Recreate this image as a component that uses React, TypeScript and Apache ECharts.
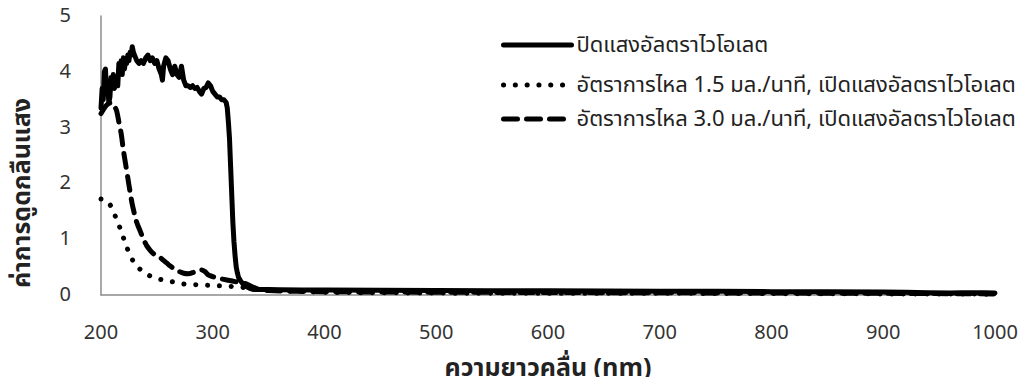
import React, { useEffect, useRef } from "react";
import * as echarts from "echarts";

const seriesNames = [
  "ปิดแสงอัลตราไวโอเลต",
  "อัตราการไหล 1.5 มล./นาที, เปิดแสงอัลตราไวโอเลต",
  "อัตราการไหล 3.0 มล./นาที, เปิดแสงอัลตราไวโอเลต",
];

const xTicks = [200, 300, 400, 500, 600, 700, 800, 900, 1000];
const yTicks = [0, 1, 2, 3, 4, 5];

const uvOffX = [
  200, 201, 202, 203, 204, 205, 206, 207, 208, 209, 210, 211, 212, 213, 214, 215, 216, 217, 218, 219,
  220, 221, 222, 223, 224, 225, 226, 227, 228, 229, 230, 232, 234, 236, 238, 240, 242, 244, 246, 248,
  250, 252, 254, 255, 256, 258, 260, 262, 264, 266, 268, 270, 272, 274, 276, 278, 280, 282, 284, 286,
  288, 290, 292, 294, 296, 298, 300, 302, 304, 306, 308, 310, 312, 313, 314, 315, 316, 317, 318, 319,
  320, 321, 322, 323, 325, 327, 330, 333, 336, 340, 350, 360, 380, 400, 450, 500, 550, 600, 650, 700,
  750, 800, 850, 900, 920, 940, 960, 970, 980, 990, 1000,
];
const uvOffY = [
  3.35, 3.7, 3.5, 4.0, 4.05, 3.6, 3.8, 3.45, 3.55, 3.9, 3.75, 3.95, 3.7, 3.85, 3.9, 3.75, 4.15, 4.0, 4.2, 3.95,
  4.25, 4.05, 4.2, 4.15, 4.3, 4.2, 4.35, 4.3, 4.45, 4.35, 4.3, 4.2, 4.15, 4.2, 4.15, 4.25, 4.3, 4.2, 4.25, 4.15,
  4.2, 4.05, 3.95, 3.85, 4.1, 4.25, 4.2, 4.05, 3.95, 4.1, 3.95, 3.9, 4.1, 3.85, 3.75, 3.75, 3.72, 3.75, 3.7, 3.72,
  3.65, 3.6, 3.7, 3.72, 3.8, 3.75, 3.65, 3.6, 3.55, 3.55, 3.5, 3.5, 3.45, 3.35, 3.1, 2.8, 2.3, 1.8, 1.3, 0.95,
  0.7, 0.5, 0.4, 0.32, 0.25, 0.2, 0.15, 0.12, 0.1, 0.1, 0.1, 0.095, 0.09, 0.088, 0.085, 0.08, 0.078, 0.075, 0.07, 0.068,
  0.065, 0.06, 0.058, 0.055, 0.05, 0.04, 0.035, 0.04, 0.04, 0.04, 0.035,
];

const flow15X = [
  200, 204, 208, 211, 214, 217, 220, 223, 226, 229, 233, 238, 243, 248, 253, 258, 263, 268, 273, 280,
  290, 300, 310, 320, 330, 340, 360, 400, 500, 600, 700, 800, 900, 1000,
];
const flow15Y = [
  1.72, 1.7, 1.62, 1.5, 1.35, 1.2, 1.03, 0.86, 0.72, 0.6, 0.5, 0.41, 0.35, 0.31, 0.28, 0.26, 0.24, 0.22, 0.2, 0.19,
  0.18, 0.17, 0.16, 0.15, 0.13, 0.11, 0.08, 0.05, 0.035, 0.03, 0.03, 0.025, 0.02, 0.015,
];

const flow30X = [
  200, 203, 206, 209, 212, 214, 216, 218, 220, 222, 224, 226, 228, 230, 232, 235, 238, 241, 244, 247,
  250, 253, 256, 259, 262, 266, 270, 274, 278, 282, 286, 290, 293, 296, 300, 305, 310, 315, 320, 325,
  330, 335, 340, 350, 400, 500, 600, 700, 800, 900, 1000,
];
const flow30Y = [
  3.25, 3.35, 3.42, 3.45, 3.38, 3.3, 3.1, 2.9, 2.6, 2.35, 2.1, 1.85, 1.62, 1.45, 1.3, 1.15, 1.0, 0.88, 0.8, 0.74,
  0.7, 0.67, 0.62, 0.57, 0.52, 0.46, 0.42, 0.39, 0.38, 0.4, 0.44, 0.45, 0.42, 0.36, 0.33, 0.3, 0.28, 0.26, 0.24, 0.22,
  0.2, 0.15, 0.11, 0.08, 0.06, 0.05, 0.045, 0.04, 0.035, 0.03, 0.02,
];

const zip = (xs: number[], ys: number[]) => xs.map((x, i) => [x, ys[i]]);

const FONT = "'Noto Sans Thai', 'Noto Sans', 'DejaVu Sans', sans-serif";

const lineStyles = [
  { color: "#000", width: 5, type: "solid" as any, cap: "round", join: "round" },
  { color: "#000", width: 5, type: [0.1, 11.7] as any, cap: "round", join: "round" },
  { color: "#000", width: 5, type: [14, 9] as any, cap: "round", join: "round" },
];

export default function App() {
  const ref = useRef<HTMLDivElement>(null);
  useEffect(() => {
    if (!ref.current) return;
    const chart = echarts.init(ref.current, null, { renderer: "svg" });
    const legendText = { color: "#222", fontSize: 22, lineHeight: 24, fontFamily: FONT };
    const mkLegend = (i: number, top: number) => ({
      show: true,
      data: [seriesNames[i]],
      left: 501,
      top,
      itemWidth: 68,
      itemHeight: 14,
      itemGap: 4,
      padding: 0,
      textStyle: legendText,
      selectedMode: false,
      itemStyle: { opacity: 0, borderWidth: 0 },
      lineStyle: { ...lineStyles[i] },
    });
    chart.setOption({
      animation: false,
      backgroundColor: "#fff",
      grid: { left: 101, right: 31, top: 16, bottom: 89, containLabel: false },
      legend: [mkLegend(0, 33), mkLegend(1, 73), mkLegend(2, 107)],
      xAxis: {
        type: "value",
        min: xTicks[0],
        max: xTicks[xTicks.length - 1],
        interval: 100,
        name: "ความยาวคลื่น (nm)",
        nameLocation: "middle",
        nameGap: 60,
        nameTextStyle: { fontSize: 25, fontWeight: "bold", color: "#222", fontFamily: FONT },
        axisLine: { show: true, lineStyle: { color: "#8c8c8c", width: 1.5 } },
        axisTick: { show: false },
        splitLine: { show: false },
        axisLabel: {
          margin: 28,
          fontSize: 20,
          color: "#333",
          fontFamily: FONT,
          formatter: (v: number) => String(v),
        },
      },
      yAxis: {
        type: "value",
        min: yTicks[0],
        max: yTicks[yTicks.length - 1],
        interval: 1,
        axisLine: { show: true, lineStyle: { color: "#8c8c8c", width: 1.5 } },
        axisTick: { show: false },
        splitLine: { show: false },
        axisLabel: { margin: 30, fontSize: 20, color: "#333", fontFamily: FONT },
      },
      graphic: [
        {
          type: "text",
          x: 22,
          y: 193,
          rotation: Math.PI / 2,
          style: {
            text: "ค่าการดูดกลืนแสง",
            fontSize: 25,
            fontWeight: "bold",
            fill: "#222",
            fontFamily: FONT,
            align: "center",
            verticalAlign: "middle",
          },
        },
      ],
      series: [
        {
          name: seriesNames[0],
          type: "line",
          data: zip(uvOffX, uvOffY),
          symbol: "none",
          showSymbol: false,
          lineStyle: lineStyles[0],
          itemStyle: { color: "#000" },
          z: 3,
        },
        {
          name: seriesNames[1],
          type: "line",
          data: zip(flow15X, flow15Y),
          symbol: "none",
          showSymbol: false,
          smooth: 0.3,
          lineStyle: lineStyles[1],
          itemStyle: { color: "#000" },
          z: 4,
        },
        {
          name: seriesNames[2],
          type: "line",
          data: zip(flow30X, flow30Y),
          symbol: "none",
          showSymbol: false,
          smooth: 0.3,
          lineStyle: lineStyles[2],
          itemStyle: { color: "#000" },
          z: 5,
        },
      ],
    });
    return () => chart.dispose();
  }, []);
  return <div ref={ref} style={{ width: 1026, height: 385, margin: -8 }} />;
}
